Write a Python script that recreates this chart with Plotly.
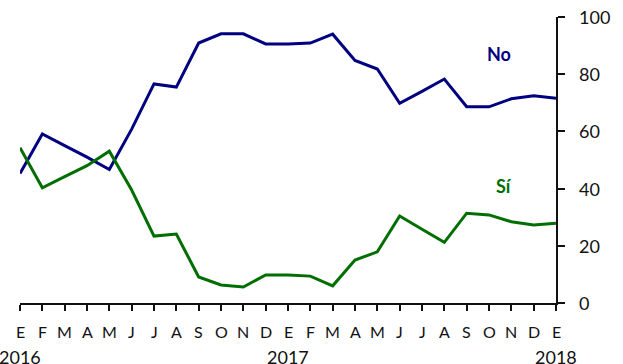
import plotly.graph_objects as go

# Monthly series, January 2016 to January 2018 (percent)
months = ["E", "F", "M", "A", "M", "J", "J", "A", "S", "O", "N", "D",
          "E", "F", "M", "A", "M", "J", "J", "A", "S", "O", "N", "D", "E"]
no_vals = [45.3, 59.1, 55.0, 51.0, 46.7, 60.8, 76.6, 75.5, 90.9, 94.1, 94.1, 90.6,
           90.6, 90.9, 94.0, 84.8, 81.8, 69.8, 74.0, 78.3, 68.6, 68.6, 71.4, 72.5, 71.6]
si_vals = [54.3, 40.3, 44.2, 48.0, 53.1, 39.5, 23.4, 24.1, 9.1, 6.3, 5.6, 9.8,
           9.8, 9.4, 6.0, 15.0, 17.9, 30.4, 25.8, 21.2, 31.4, 30.8, 28.4, 27.3, 27.9]
year_labels = ["2016", "2017", "2018"]
year_pos = [0, 12, 24]
y_ticks = [0, 20, 40, 60, 80, 100]

NAVY = "#000080"
GREEN = "#006e00"
INK = "#111111"
FONT = "Lato"

x = list(range(len(months)))

fig = go.Figure()
fig.add_trace(go.Scatter(x=x, y=no_vals, mode="lines",
                         line=dict(color=NAVY, width=3), cliponaxis=False,
                         showlegend=False))
fig.add_trace(go.Scatter(x=x, y=si_vals, mode="lines",
                         line=dict(color=GREEN, width=3), cliponaxis=False,
                         showlegend=False))

# Series labels
fig.add_annotation(x=21.45, y=87.0, text="<b>No</b>", showarrow=False,
                   font=dict(family=FONT, size=18, color=NAVY))
fig.add_annotation(x=21.65, y=41.0, text="<b>Sí</b>", showarrow=False,
                   font=dict(family=FONT, size=18, color=GREEN))

# Month letters below the axis ticks
for pos, m in zip(x, months):
    fig.add_annotation(x=pos, y=0, xref="x", yref="y", text=m, showarrow=False,
                       yshift=-28, font=dict(family=FONT, size=16, color=INK))

# Year labels under the month letters
for yr, pos in zip(year_labels, year_pos):
    fig.add_annotation(x=pos, y=0, xref="x", yref="y", text=yr, showarrow=False,
                       yshift=-54, font=dict(family=FONT, size=18, color=INK))

# Value labels to the right of the vertical axis
for v in y_ticks:
    fig.add_annotation(x=1, y=v, xref="paper", yref="y", text=str(v),
                       showarrow=False, xanchor="left", xshift=21,
                       font=dict(family=FONT, size=18, color=INK))

fig.update_xaxes(
    range=[0, 24], tickmode="array", tickvals=x, showticklabels=False,
    showline=True, linecolor=INK, linewidth=1.5,
    ticks="outside", ticklen=6, tickwidth=1.5, tickcolor=INK,
    showgrid=False, zeroline=False, automargin=False,
)
fig.update_yaxes(
    range=[0, 100], side="right", tickmode="array", tickvals=y_ticks,
    showticklabels=False,
    showline=True, linecolor=INK, linewidth=1.5,
    ticks="outside", ticklen=7, tickwidth=1.5, tickcolor=INK,
    showgrid=False, zeroline=False, automargin=False,
)
fig.update_layout(
    width=623, height=364,
    margin=dict(l=20, r=67, t=17, b=61),
    plot_bgcolor="white", paper_bgcolor="white",
)

fig.write_html("out.html")
